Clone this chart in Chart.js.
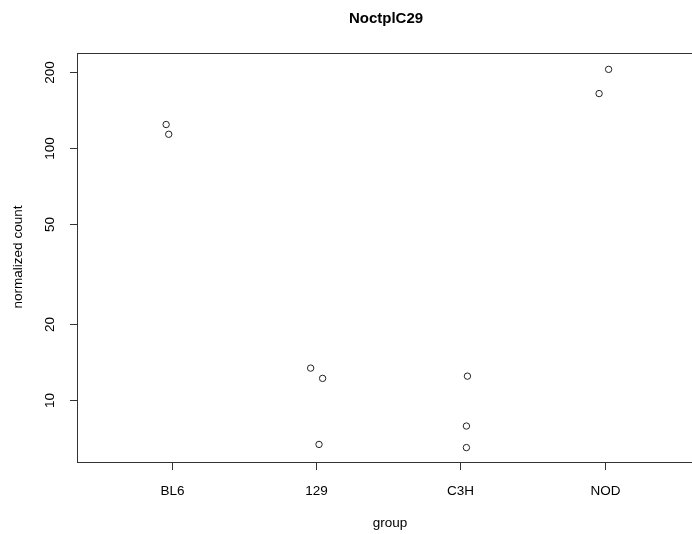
<!DOCTYPE html>
<html>
<head>
<meta charset="utf-8">
<script src="https://cdn.jsdelivr.net/npm/chart.js@4/dist/chart.umd.min.js"></script>
<style>
  html, body { margin: 0; padding: 0; background: #fff; }
  #wrap { width: 692px; height: 534px; position: relative; }
</style>
</head>
<body>
<div id="wrap"><canvas id="countsChart"></canvas></div>
<script>
// groups on the x axis
const groups = ["BL6", "129", "C3H", "NOD"];
// jittered x positions of each sample (1 = BL6 ... 4 = NOD)
const sampleX = [0.959, 0.977, 1.961, 2.044, 2.019, 3.048, 3.041, 3.041, 4.027, 3.961];
// normalized counts per sample
const sampleY = [124.2, 113.6, 13.4, 12.2, 6.67, 12.45, 7.89, 6.48, 205.6, 164.8];
// y tick labels (log scale)
const yTicks = [10, 20, 50, 100, 200];

const points = sampleX.map((x, i) => ({ x: x, y: sampleY[i] }));

// draws the R style frame, ticks and labels
const rAxes = {
    id: "rAxes",
    afterDraw(chart) {
        const ctx = chart.ctx;
        const a = chart.chartArea;
        const xs = chart.scales.x;
        const ys = chart.scales.y;
        ctx.save();
        ctx.strokeStyle = "#333";
        ctx.fillStyle = "#000";
        ctx.lineWidth = 1;

        // box
        ctx.strokeRect(a.left + 0.5, a.top + 0.5, a.right - a.left + 10, a.bottom - a.top);

        // x axis line + ticks
        const x1 = Math.round(xs.getPixelForValue(1)) + 0.5;
        const x4 = Math.round(xs.getPixelForValue(4)) + 0.5;
        ctx.beginPath();
        ctx.moveTo(x1, a.bottom + 0.5);
        ctx.lineTo(x4, a.bottom + 0.5);
        ctx.stroke();
        ctx.font = "13.5px 'Liberation Sans', Arial, sans-serif";
        ctx.textAlign = "center";
        ctx.textBaseline = "middle";
        groups.forEach((g, i) => {
            const px = Math.round(xs.getPixelForValue(i + 1)) + 0.5;
            ctx.beginPath();
            ctx.moveTo(px, a.bottom);
            ctx.lineTo(px, a.bottom + 8);
            ctx.stroke();
            ctx.fillText(g, px, a.bottom + 29);
        });

        // y axis ticks + rotated labels
        yTicks.forEach(v => {
            const py = Math.round(ys.getPixelForValue(v)) + 0.5;
            ctx.beginPath();
            ctx.moveTo(a.left - 7, py);
            ctx.lineTo(a.left, py);
            ctx.stroke();
            ctx.save();
            ctx.translate(a.left - 27, py);
            ctx.rotate(-Math.PI / 2);
            ctx.fillText(String(v), 0, 0);
            ctx.restore();
        });

        // axis titles
        ctx.fillText("group", 390, 523);
        ctx.save();
        ctx.translate(18, 257);
        ctx.rotate(-Math.PI / 2);
        ctx.fillText("normalized count", 0, 0);
        ctx.restore();

        // main title
        ctx.font = "bold 15px 'Liberation Sans', Arial, sans-serif";
        ctx.fillText("NoctplC29", 386, 19);
        ctx.restore();
    }
};

const ctx = document.getElementById("countsChart").getContext("2d");
const myChart = new Chart(ctx, {
    type: "scatter",
    data: {
        datasets: [
            {
                data: points,
                pointStyle: "circle",
                pointRadius: 3.2,
                pointHoverRadius: 3.2,
                borderColor: "#222",
                backgroundColor: "rgba(0,0,0,0)",
                borderWidth: 1,
            },
        ],
    },
    options: {
        responsive: true,
        maintainAspectRatio: false,
        animation: false,
        layout: { padding: { left: 77, top: 53, right: 0, bottom: 72 } },
        plugins: {
            legend: { display: false },
            tooltip: { enabled: false },
        },
        scales: {
            x: { type: "linear", min: 0.341, max: 4.576, display: false },
            y: { type: "logarithmic", min: 5.68, max: 238.8, display: false },
        },
    },
    plugins: [rAxes],
});
</script>
</body>
</html>
